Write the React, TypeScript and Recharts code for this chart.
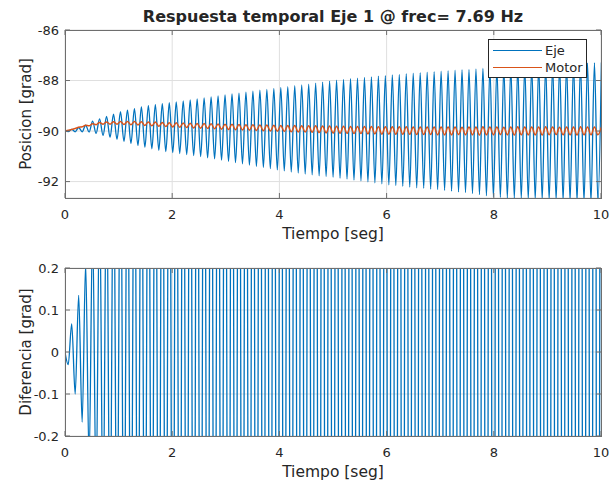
import { LineChart, Line, XAxis, YAxis, CartesianGrid, Legend } from 'recharts';

// frecuencia de excitación (titulo) -> separación de los extremos leídos
const FREC = 7.69;
const PERIODO = 1 / FREC;
const T_PRIMERO = 0.06;

// Eje: mínimos y máximos de cada ciclo [grad]
const ejeMin = [
  -90.02, -90.03, -90.03, -90.04, -90.09, -90.17, -90.25, -90.33, -90.41, -90.49,
  -90.57, -90.64, -90.7, -90.76, -90.81, -90.85, -90.89, -90.93, -90.97, -91.01,
  -91.06, -91.1, -91.15, -91.2, -91.25, -91.3, -91.35, -91.4, -91.44, -91.49,
  -91.54, -91.58, -91.62, -91.66, -91.7, -91.73, -91.77, -91.8, -91.83, -91.87,
  -91.9, -91.94, -91.97, -92.01, -92.05, -92.09, -92.13, -92.16, -92.19, -92.22,
  -92.25, -92.27, -92.3, -92.32, -92.35, -92.38, -92.41, -92.44, -92.48, -92.52,
  -92.56, -92.6, -92.63, -92.65, -92.67, -92.68, -92.7, -92.71, -92.72, -92.73,
  -92.74, -92.76, -92.77, -92.78, -92.79, -92.8, -92.81,
];
const ejeMax = [
  -89.93, -89.86, -89.77, -89.61, -89.52, -89.42, -89.33, -89.23, -89.17, -89.11,
  -89.04, -88.99, -88.95, -88.92, -88.88, -88.85, -88.81, -88.77, -88.73, -88.69,
  -88.65, -88.61, -88.57, -88.53, -88.5, -88.46, -88.42, -88.38, -88.35, -88.31,
  -88.27, -88.24, -88.2, -88.17, -88.14, -88.1, -88.06, -88.02, -87.99, -87.96,
  -87.93, -87.91, -87.88, -87.86, -87.83, -87.81, -87.78, -87.76, -87.73, -87.71,
  -87.69, -87.67, -87.65, -87.63, -87.61, -87.59, -87.57, -87.56, -87.54, -87.52,
  -87.5, -87.48, -87.47, -87.45, -87.44, -87.42, -87.41, -87.4, -87.38, -87.37,
  -87.36, -87.35, -87.33, -87.32, -87.31, -87.3, -87.29,
];

// Motor
const motorMin = [
  -89.97, -89.9, -89.83, -89.79, -89.75, -89.73, -89.73, -89.73, -89.74, -89.75,
  -89.76, -89.78, -89.79, -89.81, -89.82, -89.84, -89.85, -89.86, -89.88, -89.89,
  -89.9, -89.91, -89.93, -89.94, -89.95, -89.96, -89.97, -89.98, -89.99, -90.0,
  -90.01, -90.02, -90.03, -90.04, -90.04, -90.05, -90.06, -90.07, -90.08, -90.09,
  -90.09, -90.1, -90.1, -90.11, -90.11, -90.12, -90.12, -90.13, -90.13, -90.13,
  -90.14, -90.14, -90.14, -90.15, -90.15, -90.15, -90.14, -90.15, -90.15, -90.16,
  -90.15, -90.15, -90.14, -90.15, -90.16, -90.15, -90.15, -90.15, -90.16, -90.15,
  -90.14, -90.15, -90.15, -90.16, -90.15, -90.15, -90.15,
];
const motorMax = [
  -89.94, -89.85, -89.77, -89.71, -89.66, -89.64, -89.63, -89.62, -89.62, -89.62,
  -89.63, -89.64, -89.64, -89.66, -89.67, -89.67, -89.68, -89.69, -89.7, -89.7,
  -89.71, -89.72, -89.73, -89.73, -89.74, -89.75, -89.75, -89.76, -89.76, -89.77,
  -89.78, -89.78, -89.78, -89.79, -89.79, -89.79, -89.8, -89.8, -89.81, -89.81,
  -89.82, -89.82, -89.82, -89.82, -89.83, -89.83, -89.83, -89.83, -89.83, -89.84,
  -89.84, -89.84, -89.84, -89.84, -89.84, -89.84, -89.85, -89.84, -89.84, -89.83,
  -89.84, -89.84, -89.85, -89.84, -89.83, -89.84, -89.84, -89.84, -89.83, -89.84,
  -89.85, -89.84, -89.84, -89.83, -89.84, -89.84, -89.84,
];

// Diferencia (eje - motor), casi todo fuera de +-0.2
const difMin = [
  -0.03, -0.1, -0.167, -0.26, -0.34, -0.42, -0.5, -0.56, -0.63, -0.69,
  -0.75, -0.8, -0.86, -0.91, -0.96, -1.0, -1.04, -1.08, -1.12, -1.16,
  -1.2, -1.24, -1.28, -1.32, -1.36, -1.4, -1.44, -1.48, -1.52, -1.56,
  -1.6, -1.63, -1.66, -1.69, -1.72, -1.75, -1.78, -1.81, -1.84, -1.87,
  -1.9, -1.93, -1.96, -1.99, -2.02, -2.05, -2.08, -2.11, -2.14, -2.17,
  -2.2, -2.23, -2.26, -2.28, -2.3, -2.32, -2.34, -2.36, -2.38, -2.4,
  -2.42, -2.44, -2.46, -2.48, -2.5, -2.52, -2.54, -2.56, -2.58, -2.6,
  -2.62, -2.64, -2.66, -2.68, -2.7, -2.72, -2.74,
];
const difMax = [
  0.067, 0.135, 0.21, 0.3, 0.38, 0.46, 0.53, 0.6, 0.66, 0.72,
  0.78, 0.83, 0.88, 0.93, 0.98, 1.02, 1.06, 1.1, 1.14, 1.18,
  1.22, 1.26, 1.3, 1.34, 1.38, 1.42, 1.46, 1.5, 1.54, 1.58,
  1.62, 1.65, 1.68, 1.71, 1.74, 1.77, 1.8, 1.83, 1.86, 1.89,
  1.92, 1.95, 1.98, 2.01, 2.04, 2.07, 2.1, 2.13, 2.16, 2.19,
  2.22, 2.25, 2.27, 2.29, 2.31, 2.33, 2.35, 2.37, 2.39, 2.41,
  2.43, 2.45, 2.47, 2.49, 2.51, 2.53, 2.55, 2.57, 2.59, 2.61,
  2.63, 2.65, 2.67, 2.69, 2.71, 2.73, 2.75,
];

const tiempoTicks = [0, 2, 4, 6, 8, 10];
const posTicks = [-92, -90, -88, -86];
const difTicks = [-0.2, -0.1, 0, 0.1, 0.2];

const posData: { t: number; eje: number; motor: number }[] = [{ t: 0, eje: -90, motor: -90 }];
const difData: { t: number; dif: number }[] = [{ t: 0, dif: 0 }];
ejeMin.forEach((v, k) => {
  const t1 = T_PRIMERO + k * PERIODO;
  const t2 = T_PRIMERO + (k + 0.5) * PERIODO;
  posData.push({ t: t1, eje: v, motor: motorMin[k] });
  posData.push({ t: t2, eje: ejeMax[k], motor: motorMax[k] });
  difData.push({ t: t1, dif: difMin[k] });
  difData.push({ t: t2, dif: difMax[k] });
});

const FONT = '"DejaVu Sans", sans-serif';
const TEXT = '#262626';
const AXIS = '#6e6e6e';
const GRID = '#dfdfdf';
const AZUL = '#0072BD';
const NARANJA = '#D95319';

const W = 611;
const H = 245;
const M = { top: 30, right: 10, bottom: 5, left: 0 };
const Y_W = 65;
const X_H = 42;
const PLOT_W = W - M.left - M.right - Y_W;
const PLOT_H = H - M.top - M.bottom - X_H;

const XTick = ({ x, y, payload }: any) => (
  <g>
    <line x1={x} y1={y} x2={x} y2={y - 5} stroke={AXIS} />
    <line x1={x} y1={y - PLOT_H} x2={x} y2={y - PLOT_H + 5} stroke={AXIS} />
    <text x={x} y={y + 16} dy="0.36em" textAnchor="middle" fill={TEXT} fontSize={13} fontFamily={FONT}>
      {payload.value}
    </text>
  </g>
);

const YTick = ({ x, y, payload }: any) => (
  <g>
    <line x1={x} y1={y} x2={x + 5} y2={y} stroke={AXIS} />
    <line x1={x + PLOT_W} y1={y} x2={x + PLOT_W - 5} y2={y} stroke={AXIS} />
    <text x={x - 6} y={y} dy="0.36em" textAnchor="end" fill={TEXT} fontSize={13} fontFamily={FONT}>
      {payload.value}
    </text>
  </g>
);

const tituloX = (texto: string) => ({ viewBox }: any) => (
  <text
    x={viewBox.x + viewBox.width / 2}
    y={viewBox.y + 35}
    dy="0.36em"
    textAnchor="middle"
    fill={TEXT}
    fontSize={15.5}
    fontFamily={FONT}
  >
    {texto}
  </text>
);

const tituloY = (texto: string) => ({ viewBox }: any) => {
  const cx = viewBox.x + 26;
  const cy = viewBox.y + viewBox.height / 2;
  return (
    <text
      x={cx}
      y={cy}
      dy="0.36em"
      transform={`rotate(-90 ${cx} ${cy})`}
      textAnchor="middle"
      fill={TEXT}
      fontSize={15}
      fontFamily={FONT}
    >
      {texto}
    </text>
  );
};

const CajaLeyenda = ({ payload }: any) => (
  <div
    style={{
      border: '1px solid #262626',
      background: '#fff',
      boxSizing: 'border-box',
      width: 99,
      height: 39,
      padding: '2px 0 0 4px',
      fontFamily: FONT,
    }}
  >
    {(payload || []).map((e: any) => (
      <div key={e.value} style={{ display: 'flex', alignItems: 'center', height: 17 }}>
        <span style={{ display: 'inline-block', width: 49, borderTop: `1.5px solid ${e.color}`, marginRight: 3 }} />
        <span style={{ fontSize: 13, color: TEXT }}>{e.value}</span>
      </div>
    ))}
  </div>
);

const Caja = () => (
  <div
    style={{
      position: 'absolute',
      left: M.left + Y_W,
      top: M.top,
      width: PLOT_W + 1,
      height: PLOT_H + 1,
      boxSizing: 'border-box',
      border: `1px solid ${AXIS}`,
      pointerEvents: 'none',
    }}
  />
);

export default function App() {
  return (
    <div style={{ position: 'absolute', left: 0, top: 0, width: W, height: 483, background: '#fff', fontFamily: FONT }}>
      <div
        style={{
          position: 'absolute',
          left: M.left + Y_W,
          width: PLOT_W,
          top: 8,
          lineHeight: '18px',
          textAlign: 'center',
          fontSize: 16,
          fontWeight: 'bold',
          color: TEXT,
        }}
      >
        Respuesta temporal Eje 1 @ frec= 7.69 Hz
      </div>

      <div style={{ position: 'absolute', left: 0, top: 0 }}>
        <LineChart width={W} height={H} data={posData} margin={M}>
          <CartesianGrid stroke={GRID} />
          <XAxis
            dataKey="t"
            type="number"
            domain={[0, 10]}
            ticks={tiempoTicks}
            allowDataOverflow
            height={X_H}
            axisLine={false}
            tickLine={false}
            tickSize={0}
            tickMargin={0}
            tick={<XTick />}
            label={{ content: tituloX('Tiempo [seg]') }}
          />
          <YAxis
            type="number"
            domain={[-92.65, -86]}
            ticks={posTicks}
            allowDataOverflow
            width={Y_W}
            axisLine={false}
            tickLine={false}
            tickSize={0}
            tickMargin={0}
            tick={<YTick />}
            label={{ content: tituloY('Posicion [grad]') }}
          />
          <Legend
            layout="vertical"
            align="center"
            verticalAlign="middle"
            wrapperStyle={{ left: 488, top: 39, width: 99, height: 39 }}
            content={<CajaLeyenda />}
          />
          <Line
            type="monotone"
            dataKey="eje"
            name="Eje"
            stroke={AZUL}
            strokeWidth={1.3}
            dot={false}
            isAnimationActive={false}
          />
          <Line
            type="monotone"
            dataKey="motor"
            name="Motor"
            stroke={NARANJA}
            strokeWidth={1.4}
            dot={false}
            isAnimationActive={false}
          />
        </LineChart>
        <Caja />
      </div>

      <div style={{ position: 'absolute', left: 0, top: 238 }}>
        <LineChart width={W} height={H} data={difData} margin={M}>
          <CartesianGrid stroke={GRID} />
          <XAxis
            dataKey="t"
            type="number"
            domain={[0, 10]}
            ticks={tiempoTicks}
            allowDataOverflow
            height={X_H}
            axisLine={false}
            tickLine={false}
            tickSize={0}
            tickMargin={0}
            tick={<XTick />}
            label={{ content: tituloX('Tiempo [seg]') }}
          />
          <YAxis
            type="number"
            domain={[-0.2, 0.2]}
            ticks={difTicks}
            allowDataOverflow
            width={Y_W}
            axisLine={false}
            tickLine={false}
            tickSize={0}
            tickMargin={0}
            tick={<YTick />}
            label={{ content: tituloY('Diferencia [grad]') }}
          />
          <Line
            type="monotone"
            dataKey="dif"
            name="Diferencia"
            stroke={AZUL}
            strokeWidth={1.3}
            dot={false}
            isAnimationActive={false}
          />
        </LineChart>
        <Caja />
      </div>
    </div>
  );
}
